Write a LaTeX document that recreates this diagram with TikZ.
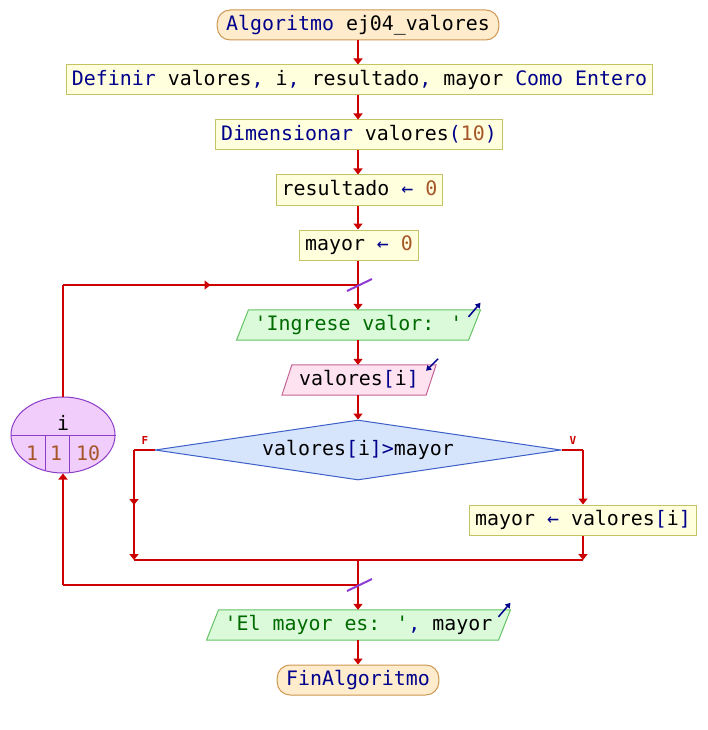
\documentclass[tikz,border=0pt]{standalone}
\usepackage{fontspec}
\newfontfamily\codefont{DejaVu Sans Mono}
\usetikzlibrary{shapes.geometric,arrows.meta,decorations.markings,backgrounds,calc}
\definecolor{termf}{RGB}{254,236,205}
\definecolor{termd}{RGB}{205,150,80}
\definecolor{procf}{RGB}{255,255,221}
\definecolor{procd}{RGB}{195,195,100}
\definecolor{outf}{RGB}{218,250,218}
\definecolor{outd}{RGB}{100,195,100}
\definecolor{inf}{RGB}{255,226,240}
\definecolor{ind}{RGB}{195,100,150}
\definecolor{decf}{RGB}{214,228,252}
\definecolor{decd}{RGB}{60,95,200}
\definecolor{loopf}{RGB}{240,205,250}
\definecolor{loopd}{RGB}{140,60,200}
\definecolor{flow}{RGB}{204,0,0}
\definecolor{slashc}{RGB}{140,60,210}
\definecolor{kwc}{RGB}{0,0,140}
\definecolor{numc}{RGB}{165,85,40}
\definecolor{strc}{RGB}{0,105,0}
\newcommand{\pkw}[1]{\textcolor{kwc}{#1}}
\newcommand{\pnum}[1]{\textcolor{numc}{#1}}
\newcommand{\pstr}[1]{\textcolor{strc}{#1}}
\newcommand{\parr}{\textcolor{kwc}{←}}
\begin{document}
\begin{tikzpicture}[x=1pt,y=-1pt,
  every node/.style={font=\codefont\fontsize{19.9}{24}\selectfont, text height=15pt, text depth=4pt, inner ysep=0pt},
  term/.style={draw=termd, fill=termf, rounded corners=13pt, minimum height=30pt, inner xsep=9pt, line width=1pt},
  proc/.style={draw=procd, fill=procf, minimum height=30pt, inner xsep=5.5pt, line width=1pt},
  para/.style={minimum height=30pt, inner xsep=12pt},
  conn/.style={draw=flow, color=flow, line width=2pt},
  arr/.style={-{Triangle[width=9pt,length=6pt]}},
  midarr/.style={postaction={decorate}, decoration={markings, mark=at position 0.5 with {\arrow{Triangle[width=9pt,length=6pt]}}}},
  icon/.style={draw=kwc, line width=1.5pt, -{Triangle[width=6pt,length=5pt]}},
  slash/.style={draw=slashc, line width=2pt},
  lbl/.style={font=\codefont\fontsize{11}{12}\selectfont\bfseries, text=flow, text height=8pt, text depth=0pt, inner sep=0pt},
]
\useasboundingbox (0,0) rectangle (707,730);

% nodes
\node[term] (start) at (358,25) {\pkw{Algoritmo} ej04\_valores};
\node[proc] (def) at (359.5,80) {\pkw{Definir} valores\pkw{,} i\pkw{,} resultado\pkw{,} mayor \pkw{Como Entero}};
\node[proc] (dim) at (359,135) {\pkw{Dimensionar} valores\pkw{(}\pnum{10}\pkw{)}};
\node[proc] (res) at (359.5,190) {resultado \parr{} \pnum{0}};
\node[proc] (may) at (359,245) {mayor \parr{} \pnum{0}};

\node[para] (in1) at (358.5,325) {\pstr{'Ingrese valor: '}};
\node[para] (in2) at (359,380) {valores\pkw{[}i\pkw{]}};
\begin{scope}[on background layer]
  \draw[draw=outd, fill=outf, line width=1pt] ($(in1.north west)+(6,0)$) -- ($(in1.north east)+(6,0)$) -- ($(in1.south east)+(-6,0)$) -- ($(in1.south west)+(-6,0)$) -- cycle;
  \draw[draw=ind, fill=inf, line width=1pt] ($(in2.north west)+(5,0)$) -- ($(in2.north east)+(5,0)$) -- ($(in2.south east)+(-5,0)$) -- ($(in2.south west)+(-5,0)$) -- cycle;
\end{scope}
\draw[icon] ($(in1.north east)+(-6,7)$) -- ($(in1.north east)+(6,-7)$);
\draw[icon] ($(in2.north east)+(7,-6)$) -- ($(in2.north east)+(-5,6)$);

\node[draw=decd, fill=decf, diamond, aspect=6.77, minimum width=406pt, minimum height=60pt, inner sep=0pt, line width=1pt] (dec) at (358,450) {valores\pkw{[}i\pkw{]}\pkw{>}mayor};
\node[lbl] (lf) at (145,440) {F};
\node[lbl] (lv) at (573,440) {V};

\node[proc] (asg) at (583,520) {mayor \parr{} valores\pkw{[}i\pkw{]}};

\node[para] (out) at (358.5,625) {\pstr{'El mayor es: '}\pkw{,} mayor};
\begin{scope}[on background layer]
  \draw[draw=outd, fill=outf, line width=1pt] ($(out.north west)+(6,0)$) -- ($(out.north east)+(6,0)$) -- ($(out.south east)+(-6,0)$) -- ($(out.south west)+(-6,0)$) -- cycle;
\end{scope}
\draw[icon] ($(out.north east)+(-6,7)$) -- ($(out.north east)+(6,-7)$);

\node[term] (fin) at (358,680) {\pkw{FinAlgoritmo}};

% loop node
\node[draw=loopd, fill=loopf, ellipse, minimum width=104pt, minimum height=76pt, inner sep=0pt, line width=1pt] (loop) at (63,435) {};
\draw[loopd, line width=1pt] (loop.west) -- (loop.east);
\begin{scope}
  \clip (63,435) ellipse [x radius=52pt, y radius=38pt];
  \draw[loopd, line width=1pt] (45,435) -- (45,480);
  \draw[loopd, line width=1pt] (69,435) -- (69,480);
\end{scope}
\node (li) at (63,424.5) {i};
\node (lv1) at (32,454.5) {\pnum{1}};
\node (lv2) at (56,454.5) {\pnum{1}};
\node (lv3) at (88,454.5) {\pnum{10}};

% coordinates
\coordinate (j1) at (358,285);
\coordinate (c1) at (63,285);
\coordinate (cF) at (134,450);
\coordinate (cFb) at (134,560);
\coordinate (cV) at (583,450);
\coordinate (cVb) at (583,560);
\coordinate (j2) at (358,560);
\coordinate (j3) at (358,585);
\coordinate (c2) at (63,585);

% connectors
\draw[conn,arr] (start.south) -- (start.south |- def.north);
\draw[conn,arr] (start.south |- def.south) -- (start.south |- dim.north);
\draw[conn,arr] (start.south |- dim.south) -- (start.south |- res.north);
\draw[conn,arr] (start.south |- res.south) -- (start.south |- may.north);
\draw[conn,arr] (start.south |- may.south) -- (start.south |- in1.north);
\draw[conn,arr] (start.south |- in1.south) -- (start.south |- in2.north);
\draw[conn,arr] (start.south |- in2.south) -- (dec.north);
\draw[conn] (loop.north) -- (c1);
\draw[conn,midarr] (c1) -- (j1);
\draw[conn] (dec.west) -- (cF);
\draw[conn,midarr,arr] (cF) -- (cFb);
\draw[conn] (dec.east) -- (cV);
\draw[conn,arr] (cV) -- (asg.north);
\draw[conn,arr] (asg.south) -- (cVb);
\draw[conn] (cFb) -- (cVb);
\draw[conn,arr] (j2) -- (start.south |- out.north);
\draw[conn] (j3) -- (c2);
\draw[conn,arr] (c2) -- (loop.south);
\draw[conn,arr] (start.south |- out.south) -- (fin.north);

\draw[slash] ($(j1)+(-11,6)$) -- ($(j1)+(14,-6)$);
\draw[slash] ($(j3)+(-11,6)$) -- ($(j3)+(14,-6)$);
\end{tikzpicture}
\end{document}
